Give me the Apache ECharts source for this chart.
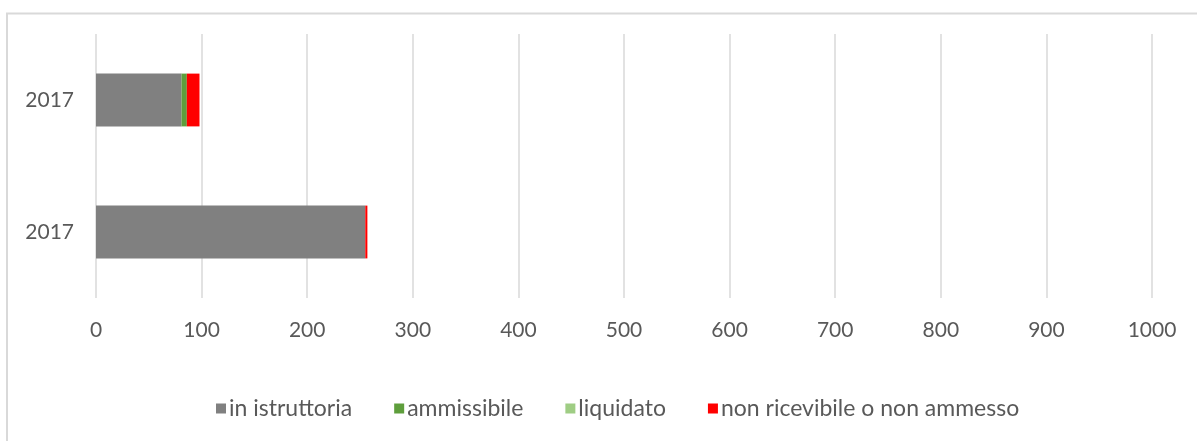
<!DOCTYPE html>
<html>
<head>
<meta charset="utf-8">
<script src="https://cdn.jsdelivr.net/npm/echarts@6/dist/echarts.min.js"></script>
<style>
html,body{margin:0;padding:0;background:#fff;}
#c{width:1197px;height:441px;}
</style>
</head>
<body>
<div id="c"></div>
<script>
const categories = ['2017', '2017'];
const seriesNames = ['in istruttoria', 'ammissibile', 'liquidato', 'non ricevibile o non ammesso'];
const inIstruttoria = [255, 81];
const ammissibile = [0, 5];
const liquidato = [0, 0];
const nonRicevibile = [2, 12];
const xTicks = [0, 100, 200, 300, 400, 500, 600, 700, 800, 900, 1000];
const colors = ['#808080', '#5e9e3c', '#9fcd84', '#ff0000'];

const FONT = 'Lato, "Open Sans", sans-serif';
const chart = echarts.init(document.getElementById('c'));
const values = [inIstruttoria, ammissibile, liquidato, nonRicevibile];
chart.setOption({
  animation: false,
  grid: {left: 96, right: 45, top: 34, bottom: 143},
  graphic: [{
    type: 'rect', silent: true,
    shape: {x: 7, y: 13.5, width: 1400, height: 600},
    style: {fill: 'none', stroke: '#d9d9d9', lineWidth: 2}
  }],
  legend: {
    bottom: 16, left: 211,
    itemWidth: 10, itemHeight: 10, itemGap: 42,
    icon: 'rect',
    textStyle: {fontFamily: FONT, fontSize: 23, color: '#595959', padding: [0, 0, 0, -2]},
    data: seriesNames
  },
  xAxis: {
    type: 'value', min: xTicks[0], max: xTicks[xTicks.length - 1], interval: 100,
    axisLine: {show: false}, axisTick: {show: false},
    splitLine: {lineStyle: {color: '#d9d9d9', width: 1.5}},
    axisLabel: {fontFamily: FONT, fontSize: 21, color: '#595959', margin: 22,
      formatter: v => String(v)}
  },
  yAxis: {
    type: 'category', data: categories,
    axisLine: {show: false}, axisTick: {show: false},
    axisLabel: {fontFamily: FONT, fontSize: 21, color: '#595959', margin: 22}
  },
  series: seriesNames.map((n, i) => ({
    name: n, type: 'bar', stack: 'total', barWidth: '40%',
    data: values[i], itemStyle: {color: colors[i]}
  }))
});
</script>
</body>
</html>
